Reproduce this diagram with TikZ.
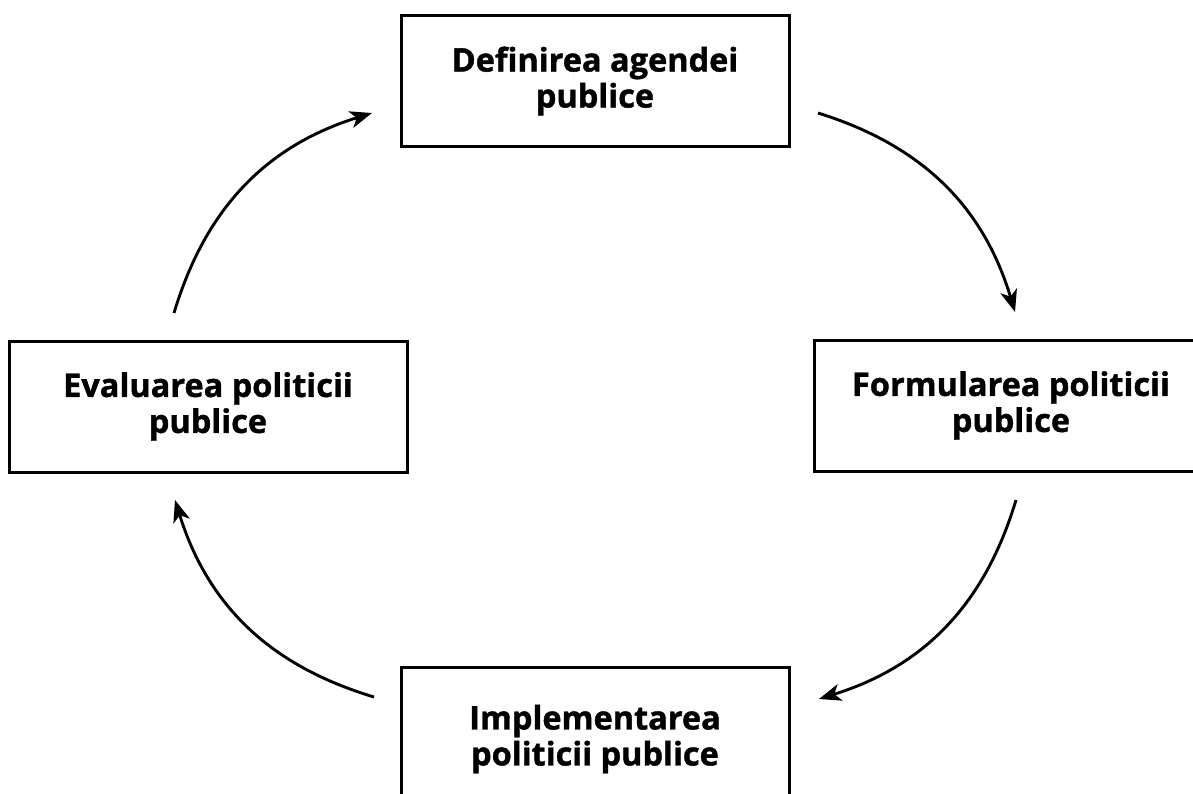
\documentclass[tikz,border=0pt]{standalone}
\usepackage{fontspec}
\setmainfont{Open Sans}[BoldFeatures={FakeBold=1.2}]
\usetikzlibrary{arrows.meta}
\begin{document}
\begin{tikzpicture}[x=1pt,y=-1pt,
  stagebox/.style={draw=black,line width=3pt,fill=white,align=center,
    font=\fontsize{32.5}{36}\selectfont\bfseries,inner sep=0pt},
  cyclearrow/.style={line width=2.9pt,-{Stealth[length=22pt,width=17pt,inset=6pt]},bend left=28}]
\useasboundingbox (0,0) rectangle (1193,794);
\clip (0,0) rectangle (1193,794);
\node[stagebox,minimum width=388pt,minimum height=131pt] (top) at (595,81) {Definirea agendei\\publice};
\node[stagebox,minimum width=398pt,minimum height=131pt] (left) at (208,406.5) {Evaluarea politicii\\publice};
\node[stagebox,minimum width=394pt,minimum height=131pt] (right) at (1011,405.5) {Formularea politicii\\publice};
\node[stagebox,minimum width=388pt,minimum height=144pt] (bottom) at (595,739) {Implementarea\\politicii publice};
\coordinate (a1s) at (818,113);
\coordinate (a1e) at (1015,312);
\coordinate (a2s) at (1016,500);
\coordinate (a2e) at (819,699);
\coordinate (a3s) at (374,697);
\coordinate (a3e) at (175,500);
\coordinate (a4s) at (174,313);
\coordinate (a4e) at (372,113);
\draw[cyclearrow] (a1s) to (a1e);
\draw[cyclearrow] (a2s) to (a2e);
\draw[cyclearrow] (a3s) to (a3e);
\draw[cyclearrow] (a4s) to (a4e);
\end{tikzpicture}
\end{document}
